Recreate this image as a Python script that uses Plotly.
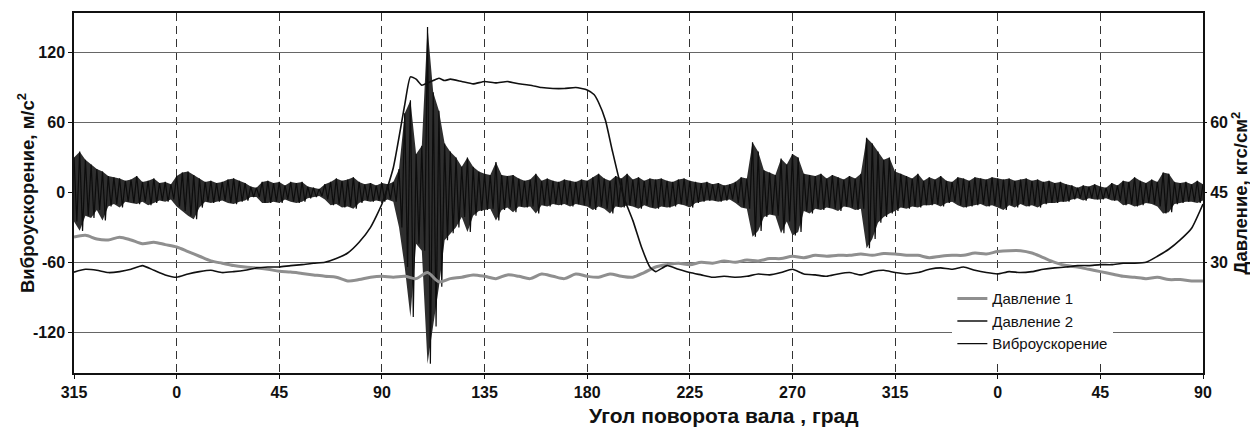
import numpy as np
import plotly.graph_objects as go

# ---- X axis (crank angle, two cycles shown continuously) ----
tick_pos = [-45, 0, 45, 90, 135, 180, 225, 270, 315, 360, 405, 450]
tick_txt = ["315", "0", "45", "90", "135", "180", "225", "270", "315", "0", "45", "90"]
yl_vals = [-120, -60, 0, 60, 120]
yl_txt = ["-120", "-60", "0", "60", "120"]
yr_vals = [30, 45, 60]
yr_txt = ["30", "45", "60"]

# ---- Vibration acceleration envelope, m/s^2 (read every 2.5 deg) ----
vib_angle = np.arange(-45, 450.01, 2.5)
vib_hi = [30, 35, 28, 24, 20, 18, 14, 13, 12, 10,
          11, 14, 9, 10, 12, 8, 9, 7, 14, 17,
          18, 15, 12, 9, 10, 8, 9, 11, 12, 10,
          8, 5, 4, 9, 10, 8, 9, 6, 9, 8,
          9, 5, 4, 3, 7, 9, 12, 10, 11, 13,
          9, 7, 8, 6, 8, 7, 9, 20, 68, 79,
          33, 40, 142, 86, 70, 42, 35, 30, 22, 30,
          22, 18, 16, 15, 26, 15, 14, 15, 12, 10,
          11, 16, 10, 12, 10, 9, 11, 10, 9, 11,
          10, 13, 16, 12, 10, 14, 12, 16, 11, 13,
          10, 12, 11, 12, 10, 9, 11, 12, 10, 9,
          8, 9, 7, 8, 6, 7, 9, 13, 12, 43,
          35, 19, 17, 15, 29, 24, 33, 30, 16, 15,
          14, 16, 12, 15, 13, 11, 14, 12, 16, 47,
          42, 35, 28, 30, 18, 16, 14, 12, 16, 10,
          13, 11, 14, 10, 9, 13, 12, 10, 13, 12,
          11, 13, 12, 11, 12, 10, 11, 12, 10, 11,
          9, 10, 8, 9, 7, 6, 4, 6, 5, 7,
          5, 4, 8, 6, 10, 9, 13, 10, 8, 11,
          9, 17, 16, 9, 8, 9, 7, 10, 7]
vib_lo = [-25, -33, -20, -22, -15, -24, -12, -10, -13, -8,
          -9, -10, -8, -11, -9, -7, -8, -6, -12, -16,
          -20, -23, -13, -8, -9, -8, -7, -9, -10, -8,
          -7, -4, -4, -9, -9, -8, -9, -6, -8, -9,
          -8, -5, -4, -3, -6, -11, -10, -13, -12, -14,
          -9, -7, -8, -7, -8, -6, -8, -30, -64, -107,
          -44, -50, -147, -115, -81, -41, -35, -30, -21, -34,
          -20, -16, -15, -14, -24, -15, -13, -17, -12, -13,
          -12, -18, -11, -12, -10, -11, -10, -12, -10, -11,
          -12, -15, -12, -14, -18, -12, -13, -11, -12, -14,
          -11, -13, -14, -12, -13, -12, -10, -11, -13, -9,
          -8, -7, -7, -8, -7, -6, -9, -13, -14, -38,
          -33, -21, -19, -20, -35, -25, -37, -34, -16, -18,
          -14, -15, -13, -14, -16, -12, -13, -15, -14, -48,
          -40, -26, -21, -18, -16, -13, -14, -12, -13, -11,
          -11, -10, -12, -9, -8, -11, -13, -12, -11, -10,
          -12, -11, -13, -15, -11, -13, -10, -12, -11, -13,
          -10, -9, -9, -8, -8, -6, -5, -7, -5, -6,
          -6, -5, -7, -7, -11, -10, -12, -11, -9, -10,
          -12, -18, -17, -10, -9, -8, -8, -9, -7]

# ---- Pressure 1, kgf/cm^2 ----
p1_angle = list(range(-45, 451, 5))
p1 = [35.4, 35.8, 35.0, 34.8, 35.4, 34.8, 34.0, 34.3, 33.8, 33.3,
      32.3, 31.3, 30.3, 29.8, 29.3, 29.0, 28.8, 28.5, 28.1, 27.9,
      27.6, 27.3, 27.0, 26.8, 26.0, 26.3, 26.8, 27.0, 26.8, 27.0,
      26.5, 27.8, 25.8, 26.5, 26.8, 27.3, 27.0, 26.5, 27.3, 27.0,
      26.5, 27.5, 27.0, 26.5, 27.5, 27.0, 26.8, 27.5, 27.0, 26.8,
      27.8, 29.0, 29.5, 29.8, 29.5, 30.0, 29.8, 30.3, 30.0, 30.5,
      30.3, 30.8, 30.8, 31.3, 31.0, 31.5, 31.3, 31.5, 31.5, 31.8,
      31.5, 31.9, 31.8, 31.5, 31.5, 31.0, 31.3, 31.5, 31.5, 32.0,
      31.8, 32.3, 32.5, 32.5, 32.0, 31.0, 30.0, 29.3, 29.0, 28.5,
      28.0, 27.5, 27.0, 26.8, 26.5, 26.8, 26.3, 26.3, 26.0, 26.0]

# ---- Pressure 2, kgf/cm^2 ----
p2_angle = [-45, -40, -35, -30, -25, -20, -15, -10, -5, 0, 5, 10, 15, 20, 25, 30, 35, 40, 45, 50,
            55, 60, 65, 70, 75, 80, 85, 90, 95, 100,
            102.5, 105, 107.5, 110, 112.5, 115, 117.5, 120,
            125, 130, 135, 140, 145, 150, 155, 160, 165, 170, 175, 180,
            183, 185, 188, 191, 196, 200, 204, 207.5,
            210, 215, 220, 225, 230, 235, 240, 245, 250, 255, 260, 265, 270, 275, 280, 285, 290,
            295, 300, 305, 310, 315, 320, 325, 330, 335, 340, 345, 350, 355, 360, 365, 370, 375,
            380, 385, 390, 395, 400, 405, 410, 415, 420, 425, 430, 435, 440, 445, 450]
p2 = [27.9, 28.5, 28.3, 27.8, 28.0, 28.5, 29.3, 28.3, 27.3, 26.8, 27.5, 28.0, 28.3, 27.8, 28.0,
      28.3, 28.8, 29.0, 29.0, 29.3, 29.5, 29.8, 30.0, 30.8, 32.0, 34.3, 37.5, 42.5, 50.3, 63.8,
      69.8, 69.3, 68.0, 68.5, 69.0, 69.5, 69.0, 69.3,
      68.8, 68.3, 68.8, 68.5, 68.8, 68.3, 68.0, 67.5, 67.3, 67.3, 67.5, 67.0,
      66.0, 64.3, 60.5, 54.0, 44.0, 39.0, 33.0, 29.0,
      28.0, 29.3, 28.5, 27.8, 27.3, 26.8, 27.0, 26.8, 27.0, 27.5, 27.3, 27.8, 28.5, 27.5, 27.3,
      27.0, 27.5, 27.8, 27.3, 28.0, 28.3, 27.8, 27.5, 27.8, 28.5, 28.8, 28.5, 29.0, 28.3, 27.8,
      27.5, 28.0, 27.8, 28.0, 28.5, 28.8, 29.0, 29.3, 29.3, 29.5, 29.5, 29.8, 29.8, 30.0, 31.3,
      32.8, 34.8, 37.3, 42.5]

FONT = "Liberation Sans, Arial, sans-serif"

fig = go.Figure()

# pressure 1 (grey, thick) - behind the vibration trace
fig.add_trace(go.Scatter(x=p1_angle, y=p1, yaxis="y2", mode="lines", name="Давление 1",
                         line=dict(color="#8f8f8f", width=3, shape="spline", smoothing=0.8),
                         legendrank=1))

# vibration band (fill between upper and lower envelope)
fig.add_trace(go.Scatter(x=vib_angle, y=vib_hi, mode="lines", line=dict(width=0, color="#2a2a2a"),
                         showlegend=False, hoverinfo="skip"))
fig.add_trace(go.Scatter(x=vib_angle, y=vib_lo, mode="lines", line=dict(width=0, color="#2a2a2a"),
                         fill="tonexty", fillcolor="#2e2e2e", showlegend=False, hoverinfo="skip"))

# vibration signal drawn as alternating peaks
zx = np.empty(2 * len(vib_angle))
zy = np.empty(2 * len(vib_angle))
zx[0::2] = vib_angle
zx[1::2] = vib_angle + 1.25
zy[0::2] = vib_hi
zy[1::2] = vib_lo
fig.add_trace(go.Scatter(x=zx, y=zy, mode="lines", name="Виброускорение",
                         line=dict(color="#0c0c0c", width=1.2), legendrank=3))

# pressure 2 (black, thin)
fig.add_trace(go.Scatter(x=p2_angle, y=p2, yaxis="y2", mode="lines", name="Давление 2",
                         line=dict(color="#101010", width=1.6, shape="spline", smoothing=0.5),
                         legendrank=2))

tick_font = dict(family=FONT, size=16, color="#111", weight="bold")
vtitle_font = dict(family=FONT, size=18.5, color="#111", weight="bold")
htitle_font = dict(family=FONT, size=21, color="#111", weight="bold")

fig.update_layout(
    width=1250, height=429,
    margin=dict(l=74, r=47, t=13, b=56),
    paper_bgcolor="white", plot_bgcolor="white",
    font=dict(family=FONT, color="#111"),
    xaxis=dict(range=[-45, 450], tickvals=tick_pos, ticktext=tick_txt,
               showgrid=True, gridcolor="#333333", griddash="8px,5px", gridwidth=1.3,
               showline=True, linecolor="#111", linewidth=1.5, mirror=True,
               ticks="outside", ticklen=4, tickcolor="#111", zeroline=False,
               tickfont=tick_font),
    yaxis=dict(range=[-155, 154], tickvals=yl_vals, ticktext=yl_txt,
               showgrid=True, gridcolor="#666666", gridwidth=1,
               showline=True, linecolor="#111", linewidth=1.5, mirror=True,
               ticks="outside", ticklen=4, tickcolor="#111", zeroline=False,
               tickfont=tick_font),
    yaxis2=dict(range=[6.25, 83.5], tickvals=yr_vals, ticktext=yr_txt, overlaying="y", side="right",
                showgrid=False, zeroline=False, showline=False,
                ticks="outside", ticklen=3, tickcolor="#111",
                tickfont=tick_font),
    legend=dict(x=0.778, y=0.252, xanchor="left", yanchor="top",
                bgcolor="white", borderwidth=0,
                font=dict(family=FONT, size=15, color="#111"),
                tracegroupgap=0, traceorder="normal"),
    showlegend=True,
    annotations=[
        dict(text="Виброускорение, м/с<sup>2</sup>", xref="paper", yref="paper",
             x=-0.0425, y=0.5, xanchor="center", yanchor="middle", textangle=-90,
             showarrow=False, font=vtitle_font),
        dict(text="Давление, кгс/см<sup>2</sup>", xref="paper", yref="paper",
             x=1.0325, y=0.5, xanchor="center", yanchor="middle", textangle=-90,
             showarrow=False, font=vtitle_font),
        dict(text="Угол поворота вала , град", xref="paper", yref="paper",
             x=0.576, y=-0.119, xanchor="center", yanchor="middle",
             showarrow=False, font=htitle_font),
    ],
)

fig.write_html("out.html", config={"displayModeBar": False},
               post_script="document.body.style.margin='0px';")
